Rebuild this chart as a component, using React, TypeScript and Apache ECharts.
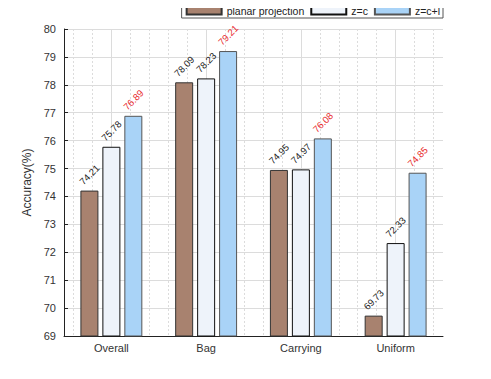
import React, { useEffect, useRef } from "react";
import * as echarts from "echarts";

const categories = ["Overall", "Bag", "Carrying", "Uniform"];
const seriesNames = ["planar projection", "z=c", "z=c+l"];
const planarValues = [74.21, 78.09, 74.95, 69.73];
const zcValues = [75.78, 78.23, 74.97, 72.33];
const zclValues = [76.89, 79.21, 76.08, 74.85];
const yMin = 69;
const yMax = 80;

const FONT = "'Liberation Sans', Arial, sans-serif";

export default function App() {
  const ref = useRef<HTMLDivElement>(null);
  useEffect(() => {
    if (!ref.current) return;
    const chart = echarts.init(ref.current, undefined, { renderer: "svg" });
    const label = (color: string) => ({
      show: true,
      position: "top" as const,
      rotate: 45,
      distance: 16,
      align: "center",
      verticalAlign: "middle",
      color,
      fontSize: 9.5,
      fontFamily: FONT,
      formatter: (p: any) => p.value.toFixed(2),
    });
    const mk = (name: string, data: number[], fill: string, border: string, lblColor: string) => ({
      name,
      type: "bar",
      data,
      barWidth: 18,
      barGap: "22%",
      itemStyle: { color: fill, borderColor: border, borderWidth: 1 },
      label: label(lblColor),
    });
    chart.setOption({
      animation: false,
      textStyle: { fontFamily: FONT },
      legend: {
        data: seriesNames,
        right: 48,
        top: 3,
        itemWidth: 35,
        itemHeight: 8,
        itemGap: 6,
        padding: [2, 3, 2, 4],
        borderColor: "#555",
        borderWidth: 1,
        borderRadius: 0,
        icon: "rect",
        textStyle: { fontSize: 10.5, color: "#222", fontFamily: FONT, lineHeight: 11 },
      },
      grid: { left: 64, right: 48, top: 29, bottom: 43 },
      xAxis: [
        {
          type: "category",
          data: categories,
          axisLine: { lineStyle: { color: "#222", width: 1 } },
          axisTick: { show: true, inside: true, alignWithLabel: true, length: 3, lineStyle: { color: "#444" } },
          axisLabel: { color: "#333", fontSize: 11, margin: 6, fontFamily: FONT },
          splitLine: { show: false },
        },
        {
          type: "value",
          min: 0.5,
          max: 4.5,
          splitNumber: 4,
          show: true,
          position: "bottom",
          axisLine: { show: false },
          axisTick: { show: false },
          axisLabel: { show: false },
          minorTick: { show: false, splitNumber: 5 },
          splitLine: {
            show: true,
            showMinLine: false,
            showMaxLine: false,
            lineStyle: { color: "#dcdcdc", width: 1 },
          },
          minorSplitLine: {
            show: true,
            lineStyle: { color: "#dcdcdc", width: 1, type: [2, 2] },
          },
        },
      ],
      yAxis: {
        type: "value",
        min: yMin,
        max: yMax,
        interval: 1,
        name: "Accuracy(%)",
        nameLocation: "middle",
        nameGap: 20,
        nameTextStyle: { fontSize: 12, color: "#333", fontFamily: FONT },
        axisLine: { show: true, lineStyle: { color: "#222", width: 1 } },
        axisTick: { show: true, inside: true, length: 4, lineStyle: { color: "#222" } },
        axisLabel: { color: "#333", fontSize: 11, margin: 8, fontFamily: FONT },
        splitLine: { show: true, lineStyle: { color: "#dcdcdc", width: 1 } },
      },
      series: [
        mk(seriesNames[0], planarValues, "#A8826F", "#333", "#222"),
        mk(seriesNames[1], zcValues, "#EEF3FA", "#111", "#222"),
        mk(seriesNames[2], zclValues, "#A9D3F7", "#555", "#e8282b"),
      ],
    });
    return () => chart.dispose();
  }, []);
  return <div ref={ref} style={{ width: 491, height: 379, margin: -8 }} />;
}
